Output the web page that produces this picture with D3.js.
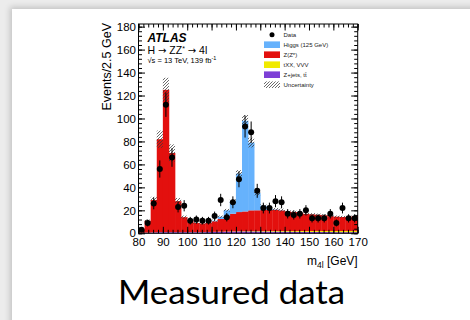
<!DOCTYPE html>
<html>
<head>
<meta charset="utf-8">
<script src="https://cdn.jsdelivr.net/npm/d3@7"></script>
<style>
  html, body { margin: 0; padding: 0; width: 470px; height: 320px; overflow: hidden; background: #ececec; }
  #panel { position: absolute; left: 12px; top: 9px; width: 480px; height: 330px; background: #fff;
           box-shadow: -2px -2px 6px rgba(0,0,0,0.18); }
  svg { position: absolute; left: 0; top: 0; }
</style>
</head>
<body>
<div id="panel"></div>
<svg id="chart" width="470" height="320"></svg>
<script>
// ---- data ----
const binLow = [80, 82.5, 85, 87.5, 90, 92.5, 95, 97.5, 100, 102.5, 105, 107.5, 110, 112.5, 115, 117.5,
  120, 122.5, 125, 127.5, 130, 132.5, 135, 137.5, 140, 142.5, 145, 147.5, 150, 152.5, 155, 157.5,
  160, 162.5, 165, 167.5];
const binWidth = 2.5;
const zjets = [0.5, 0.6, 0.8, 1.0, 1.0, 1.0, 1.0, 1.0, 1.0, 1.0, 1.0, 1.1, 1.2, 1.3, 1.4, 1.5,
  1.6, 1.6, 1.6, 1.6, 1.5, 1.5, 1.5, 1.4, 1.4, 1.3, 1.3, 1.2, 1.2, 1.2, 1.1, 1.1, 1.0, 1.0, 1.0, 1.0];
const txx = [0.05, 0.05, 0.05, 0.05, 0.05, 0.05, 0.05, 0.05, 0.1, 0.1, 0.1, 0.1, 0.1, 0.15, 0.15, 0.2,
  0.2, 0.25, 0.3, 0.35, 0.4, 0.45, 0.5, 0.55, 0.6, 0.65, 0.7, 0.75, 0.8, 0.85, 0.9, 0.95, 1.0, 1.0, 1.05, 1.1];
const zz = [3.4, 10.3, 28.1, 80.9, 123.9, 68.9, 26.9, 13.0, 9.9, 7.9, 7.4, 7.8, 9.2, 11.0, 13.5, 15.3,
  16.7, 17.2, 18.1, 18.1, 18.6, 18.5, 18.5, 18.0, 17.0, 16.5, 16.0, 15.0, 14.5, 14.0, 13.7, 12.9,
  12.5, 12.2, 11.9, 12.9];
const higgs = [0, 0, 0, 0, 0, 0, 0, 0, 0, 0, 0, 0.2, 0.5, 2, 5, 11, 33.5, 79, 59, 15, 3.5, 1, 0.3, 0.2,
  0, 0, 0, 0, 0, 0, 0, 0, 0, 0, 0, 0];
const uncert = [0.4, 1.0, 2.8, 7.5, 10.5, 7.5, 2.8, 1.4, 1.0, 0.8, 0.8, 0.8, 0.9, 1.0, 1.2, 1.6, 3.0, 5.0,
  4.2, 2.0, 1.4, 1.3, 1.3, 1.3, 1.2, 1.2, 1.2, 1.1, 1.1, 1.1, 1.0, 1.0, 1.0, 1.0, 1.0, 1.0];
const dataCounts = [3, 9, 26, 56, 112, 66, 23, 24, 11, 12, 11, 11, 15, 29, 14, 27, 47, 93, 88, 37,
  22, 22, 28, 27, 17, 16, 17, 20, 13, 13, 13, 17, 9, 22, 13, 13];
const dataErr = [1.7, 3.0, 5.1, 7.5, 10.6, 8.1, 4.8, 4.9, 3.3, 3.5, 3.3, 3.3, 3.9, 5.4, 3.7, 5.2, 6.9, 9.6,
  9.4, 6.1, 4.7, 4.7, 5.3, 5.2, 4.1, 4.0, 4.1, 4.5, 3.6, 3.6, 3.6, 4.1, 3.0, 4.7, 3.6, 3.6];
const xTicks = [80, 90, 100, 110, 120, 130, 140, 150, 160, 170];
const yTicks = [0, 20, 40, 60, 80, 100, 120, 140, 160, 180];
const seriesKeys = ["zjets", "txx", "zz", "higgs"];
const seriesColors = { zjets: "#7d3fd6", txx: "#f0ea00", zz: "#e3100e", higgs: "#66b2fc" };
const legendItems = [
  { key: "data", label: "Data" },
  { key: "higgs", label: "Higgs (125 GeV)" },
  { key: "zz", label: "Z(Z*)" },
  { key: "txx", label: "tXX, VVV" },
  { key: "zjets", label: "Z+jets, tt\u0304" },
  { key: "unc", label: "Uncertainty" }
];

// ---- layout ----
const svg = d3.select("#chart");
const L = 138.5, R = 357.7, B = 233.3, T = 24;
const x = d3.scaleLinear().domain([80, 170]).range([L, R]);
const y = d3.scaleLinear().domain([0, 182.3]).range([B, T]);
const FONT = "'Liberation Sans', Arial, Helvetica, sans-serif";

const defs = svg.append("defs");
const pat = defs.append("pattern").attr("id", "hatch").attr("patternUnits", "userSpaceOnUse")
  .attr("width", 3).attr("height", 3);
pat.append("path").attr("d", "M-1,1 L1,-1 M0,3 L3,0 M2,4 L4,2")
  .attr("stroke", "#3a3a3a").attr("stroke-width", 0.75);

const rows = binLow.map((b, i) => ({ lo: b, zjets: zjets[i], txx: txx[i], zz: zz[i], higgs: higgs[i],
  unc: uncert[i], n: dataCounts[i], err: dataErr[i] }));
const stacked = d3.stack().keys(seriesKeys)(rows);

const g = svg.append("g");
stacked.forEach(layer => {
  g.append("g").selectAll("rect").data(layer).join("rect")
    .attr("x", d => x(d.data.lo))
    .attr("width", d => x(d.data.lo + binWidth) - x(d.data.lo) + 0.3)
    .attr("y", d => y(d[1]))
    .attr("height", d => Math.max(0, y(d[0]) - y(d[1])))
    .attr("fill", seriesColors[layer.key]);
});
const total = rows.map(r => r.zjets + r.txx + r.zz + r.higgs);
g.append("g").selectAll("rect").data(rows).join("rect")
  .attr("x", d => x(d.lo))
  .attr("width", d => x(d.lo + binWidth) - x(d.lo))
  .attr("y", (d, i) => y(total[i] + d.unc))
  .attr("height", (d, i) => y(total[i] - d.unc) - y(total[i] + d.unc))
  .attr("fill", "url(#hatch)");

// data points
const dg = svg.append("g");
dg.selectAll("line").data(rows).join("line")
  .attr("x1", d => x(d.lo + binWidth / 2)).attr("x2", d => x(d.lo + binWidth / 2))
  .attr("y1", d => y(d.n - d.err)).attr("y2", d => y(d.n + d.err))
  .attr("stroke", "#000").attr("stroke-width", 1);
dg.selectAll("circle").data(rows).join("circle")
  .attr("cx", d => x(d.lo + binWidth / 2)).attr("cy", d => y(d.n)).attr("r", 3).attr("fill", "#000");

// axes
function styleAxis(sel) {
  sel.selectAll("text").attr("font-family", FONT).attr("font-size", 11.5).attr("fill", "#000");
  sel.selectAll("line").attr("stroke", "#000");
}
const xMinor = d3.range(80, 170.01, 2);
const yMinor = d3.range(0, 182, 4);
svg.append("g").attr("transform", `translate(0,${B})`)
  .call(d3.axisBottom(x).tickValues(xTicks).tickSizeInner(-6.5).tickSizeOuter(0).tickPadding(4.5).tickFormat(d3.format("d")))
  .call(s => s.select(".domain").remove()).call(styleAxis);
svg.append("g").attr("transform", `translate(0,${B})`)
  .call(d3.axisBottom(x).tickValues(xMinor).tickSize(-3.5).tickFormat(""))
  .call(s => s.select(".domain").remove()).call(styleAxis);
svg.append("g").attr("transform", `translate(0,${T})`)
  .call(d3.axisTop(x).tickValues(xTicks).tickSize(-6.5).tickFormat(""))
  .call(s => s.select(".domain").remove()).call(styleAxis);
svg.append("g").attr("transform", `translate(0,${T})`)
  .call(d3.axisTop(x).tickValues(xMinor).tickSize(-3.5).tickFormat(""))
  .call(s => s.select(".domain").remove()).call(styleAxis);
svg.append("g").attr("transform", `translate(${L},0)`)
  .call(d3.axisLeft(y).tickValues(yTicks).tickSizeInner(-6.5).tickSizeOuter(0).tickPadding(2.5).tickFormat(d3.format("d")))
  .call(s => s.select(".domain").remove()).call(styleAxis);
svg.append("g").attr("transform", `translate(${L},0)`)
  .call(d3.axisLeft(y).tickValues(yMinor).tickSize(-3.5).tickFormat(""))
  .call(s => s.select(".domain").remove()).call(styleAxis);
svg.append("g").attr("transform", `translate(${R},0)`)
  .call(d3.axisRight(y).tickValues(yTicks).tickSize(-6.5).tickFormat(""))
  .call(s => s.select(".domain").remove()).call(styleAxis);
svg.append("g").attr("transform", `translate(${R},0)`)
  .call(d3.axisRight(y).tickValues(yMinor).tickSize(-3.5).tickFormat(""))
  .call(s => s.select(".domain").remove()).call(styleAxis);
svg.append("rect").attr("x", L).attr("y", T).attr("width", R - L).attr("height", B - T)
  .attr("fill", "none").attr("stroke", "#000").attr("stroke-width", 1);

// axis titles
svg.append("text").attr("transform", `translate(111,${T - 1}) rotate(-90)`)
  .attr("text-anchor", "end").attr("font-family", FONT).attr("font-size", 12.5)
  .text("Events/2.5 GeV");
const xt = svg.append("text").attr("x", R).attr("y", 265).attr("text-anchor", "end")
  .attr("font-family", FONT).attr("font-size", 12);
xt.append("tspan").text("m");
xt.append("tspan").attr("font-size", 8.5).attr("dy", 3).text("4l");
xt.append("tspan").attr("dy", -3).text(" [GeV]");

// ATLAS labels
svg.append("text").attr("x", 147.5).attr("y", 41.7).attr("font-family", FONT)
  .attr("font-size", 12).attr("font-weight", "bold").attr("font-style", "italic").text("ATLAS");
const ARROW = "'DejaVu Sans', sans-serif";
const h = svg.append("text").attr("x", 147.5).attr("y", 53.5).attr("font-family", FONT).attr("font-size", 10.5);
h.append("tspan").text("H ");
h.append("tspan").attr("font-family", ARROW).attr("font-size", 10).text("\u2192");
h.append("tspan").text(" ZZ");
h.append("tspan").attr("font-size", 7).attr("dy", -3).text("*");
h.append("tspan").attr("dy", 3).text(" ");
h.append("tspan").attr("font-family", ARROW).attr("font-size", 10).text("\u2192");
h.append("tspan").text(" 4l");
const s = svg.append("text").attr("x", 147.5).attr("y", 63.3).attr("font-family", FONT).attr("font-size", 7.5);
s.append("tspan").text("\u221As = 13 TeV, 139 fb");
s.append("tspan").attr("font-size", 5.5).attr("dy", -3).text("-1");

// legend
const lg = svg.append("g");
legendItems.forEach((it, i) => {
  const cy = 34.7 + i * 10;
  if (it.key === "data") {
    lg.append("circle").attr("cx", 272).attr("cy", cy).attr("r", 2.5).attr("fill", "#000");
  } else if (it.key === "unc") {
    lg.append("rect").attr("x", 264).attr("y", cy - 3.3).attr("width", 16).attr("height", 6.6).attr("fill", "url(#hatch)");
  } else {
    lg.append("rect").attr("x", 264).attr("y", cy - 3.3).attr("width", 16).attr("height", 6.6)
      .attr("fill", seriesColors[it.key]);
  }
  lg.append("text").attr("x", 283.5).attr("y", cy + 2.1).attr("font-family", FONT).attr("font-size", 6)
    .attr("fill", "#222").text(it.label);
});

// caption
svg.append("text").attr("x", 231.5).attr("y", 304).attr("text-anchor", "middle")
  .attr("font-family", "Lato, 'Open Sans', sans-serif").attr("font-size", 32.5).attr("fill", "#000")
  .attr("textLength", 227).attr("lengthAdjust", "spacingAndGlyphs")
  .text("Measured data");
</script>
</body>
</html>
